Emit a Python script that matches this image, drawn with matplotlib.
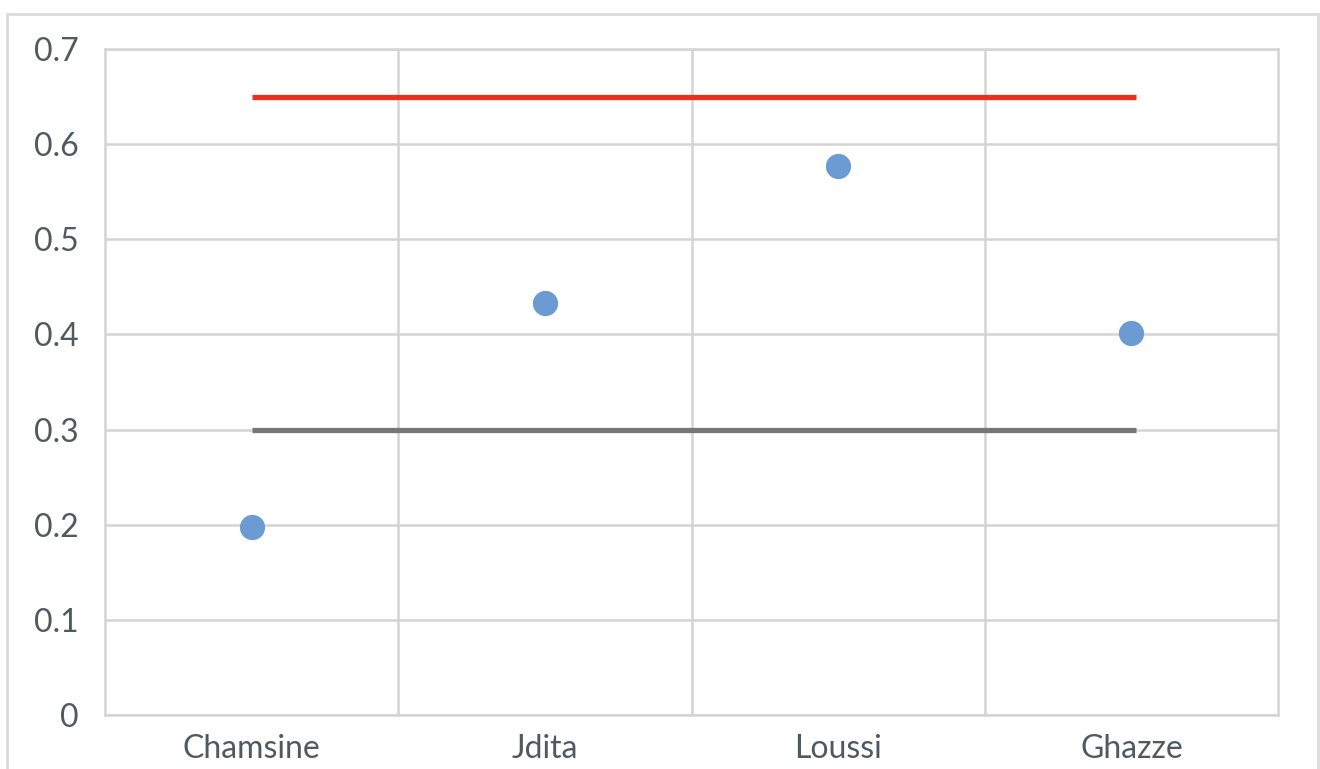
import matplotlib.pyplot as plt
from matplotlib.patches import Rectangle

sites = ["Chamsine", "Jdita", "Loussi", "Ghazze"]
values = [0.198, 0.433, 0.577, 0.402]
upper_limit = 0.65
lower_limit = 0.30
yticks = [0, 0.1, 0.2, 0.3, 0.4, 0.5, 0.6, 0.7]

grid_col = "#D4D4D4"
text_col = "#4F5A60"

plt.rcParams["font.family"] = ["Lato", "DejaVu Sans"]

fig = plt.figure(figsize=(13.2, 7.69), dpi=100)
ax = fig.add_axes([105 / 1320, 1 - 715 / 769, (1278 - 105) / 1320, (715 - 49) / 769])

# outer chart border
fig.patches.append(Rectangle((7 / 1320, -0.05), (1318 - 7) / 1320, 1.05 - 14 / 769,
                             transform=fig.transFigure, fill=False,
                             edgecolor="#DADADA", linewidth=2))

x = list(range(1, len(sites) + 1))

ax.plot([x[0], x[-1] + 0.015], [upper_limit, upper_limit], color="#E8321E", lw=3.8,
        solid_capstyle="butt", zorder=3)
ax.plot([x[0], x[-1] + 0.015], [lower_limit, lower_limit], color="#767676", lw=3.8,
        solid_capstyle="butt", zorder=3)
ax.scatter(x, values, s=330, color="#6A9BD2", zorder=4, linewidths=0)

ax.set_xlim(0.5, len(sites) + 0.5)
ax.set_ylim(0, 0.7)
ax.set_xticks(x)
ax.set_xticklabels(sites)
ax.set_xticks([1.5, 2.5, 3.5], minor=True)
ax.set_yticks(yticks)
ax.set_yticklabels(["0" if v == 0 else f"{v:.1f}" for v in yticks])

ax.grid(axis="y", which="major", color=grid_col, lw=1.8)
ax.grid(axis="x", which="minor", color=grid_col, lw=1.8)
ax.set_axisbelow(True)

for s in ax.spines.values():
    s.set_color(grid_col)
    s.set_linewidth(1.8)

ax.tick_params(axis="both", which="both", length=0, labelsize=23, labelcolor=text_col)
ax.tick_params(axis="y", pad=19)
ax.tick_params(axis="x", pad=14)

fig.savefig("out.png", dpi=100)
